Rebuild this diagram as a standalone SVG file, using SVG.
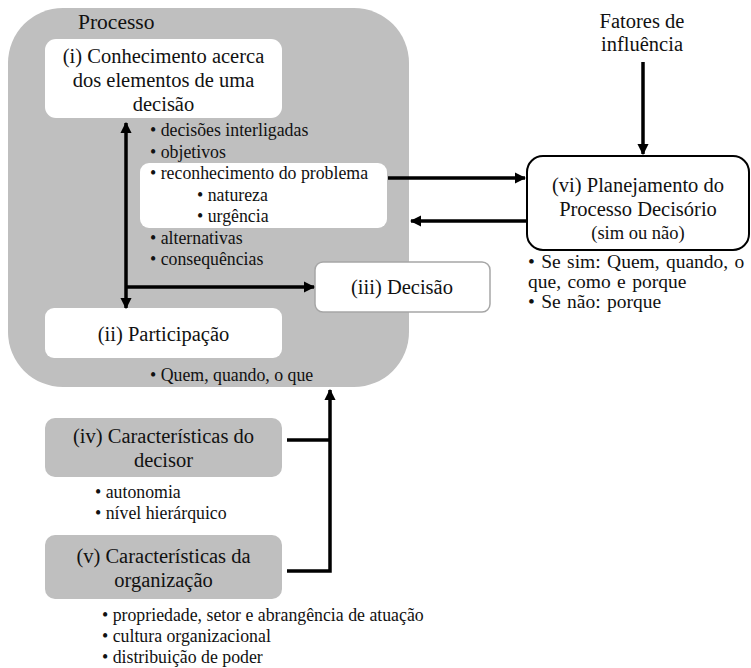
<svg xmlns="http://www.w3.org/2000/svg" width="751" height="668" viewBox="0 0 751 668">
<defs>
<style>
text{font-family:"Liberation Serif","Times New Roman",serif;fill:#111}
.m{font-size:20.5px;text-anchor:middle}
.b{font-size:17.8px}
.r{font-size:19.5px;word-spacing:1.5px}
.s{font-size:18.5px;text-anchor:middle}
.ln{stroke:#000;stroke-width:3.5;fill:none}
</style>
<marker id="ah" viewBox="0 0 10 10" refX="9" refY="5" markerWidth="3.2" markerHeight="3.2" orient="auto-start-reverse" markerUnits="strokeWidth">
<path d="M0,0 L10,5 L0,10 z" fill="#000"/>
</marker>
</defs>
<rect width="751" height="668" fill="#fff"/>
<g id="processo">
<rect x="8" y="8" width="401" height="379" rx="55" ry="55" fill="#bfbfbf"/>
<text x="78" y="29" style="font-size:21.5px">Processo</text>
</g>
<g id="n1">
<rect x="45" y="39" width="237" height="79" rx="11" fill="#fff"/>
<text class="m" x="163.5" y="63">(i) Conhecimento acerca</text>
<text class="m" x="163.5" y="87">dos elementos de uma</text>
<text class="m" x="163.5" y="111">decisão</text>
</g>
<g id="n1list">
<rect x="140" y="163" width="247" height="65" rx="9" fill="#fff"/>
<text class="b" x="150" y="136">• decisões interligadas</text>
<text class="b" x="150" y="157.5">• objetivos</text>
<text class="b" x="150" y="179">• reconhecimento do problema</text>
<text class="b" x="197" y="200.5">• natureza</text>
<text class="b" x="197" y="222">• urgência</text>
<text class="b" x="150" y="243.5">• alternativas</text>
<text class="b" x="150" y="265">• consequências</text>
</g>
<g id="n2">
<rect x="45" y="308" width="237" height="50" rx="9" fill="#fff"/>
<text class="m" x="163.5" y="341">(ii) Participação</text>
<text class="b" x="150" y="381">• Quem, quando, o que</text>
</g>
<g id="n3">
<rect x="315" y="262" width="175" height="50" rx="8" fill="#fff" stroke="#a6a6a6" stroke-width="1.5"/>
<text class="m" x="402" y="294">(iii) Decisão</text>
</g>
<g id="n4">
<rect x="45" y="418" width="237" height="59" rx="10" fill="#bfbfbf"/>
<text class="m" x="163.5" y="443">(iv) Características do</text>
<text class="m" x="163.5" y="467">decisor</text>
<text class="b" x="95" y="498">• autonomia</text>
<text class="b" x="95" y="519">• nível hierárquico</text>
</g>
<g id="n5">
<rect x="45" y="535" width="237" height="64" rx="10" fill="#bfbfbf"/>
<text class="m" x="163.5" y="563">(v) Características da</text>
<text class="m" x="163.5" y="587">organização</text>
<text class="b" x="102" y="621">• propriedade, setor e abrangência de atuação</text>
<text class="b" x="102" y="642">• cultura organizacional</text>
<text class="b" x="102" y="663">• distribuição de poder</text>
</g>
<g id="n6">
<rect x="527" y="156" width="222" height="94" rx="16" fill="#fff" stroke="#000" stroke-width="2"/>
<text class="m" x="638" y="192">(vi) Planejamento do</text>
<text class="m" x="638" y="216">Processo Decisório</text>
<text class="s" x="638" y="239">(sim ou não)</text>
<text class="r" x="528" y="268">• Se sim: Quem, quando, o</text>
<text class="r" x="528" y="288">que, como e porque</text>
<text class="r" x="528" y="308">• Se não: porque</text>
</g>
<g id="n7">
<text class="m" x="642" y="28">Fatores de</text>
<text class="m" x="642" y="51">influência</text>
</g>
<g id="connectors">
<line class="ln" x1="126" y1="123" x2="126" y2="308" marker-start="url(#ah)" marker-end="url(#ah)"/>
<line class="ln" x1="126" y1="287" x2="314" y2="287" marker-end="url(#ah)"/>
<line class="ln" x1="388" y1="178" x2="525" y2="178" marker-end="url(#ah)"/>
<line class="ln" x1="526" y1="221" x2="411" y2="221" marker-end="url(#ah)"/>
<line class="ln" x1="643" y1="62" x2="643" y2="154" marker-end="url(#ah)"/>
<polyline class="ln" points="287,571 330,571 330,390" marker-end="url(#ah)"/>
<line class="ln" x1="287" y1="440" x2="330" y2="440"/>
</g>
</svg>
